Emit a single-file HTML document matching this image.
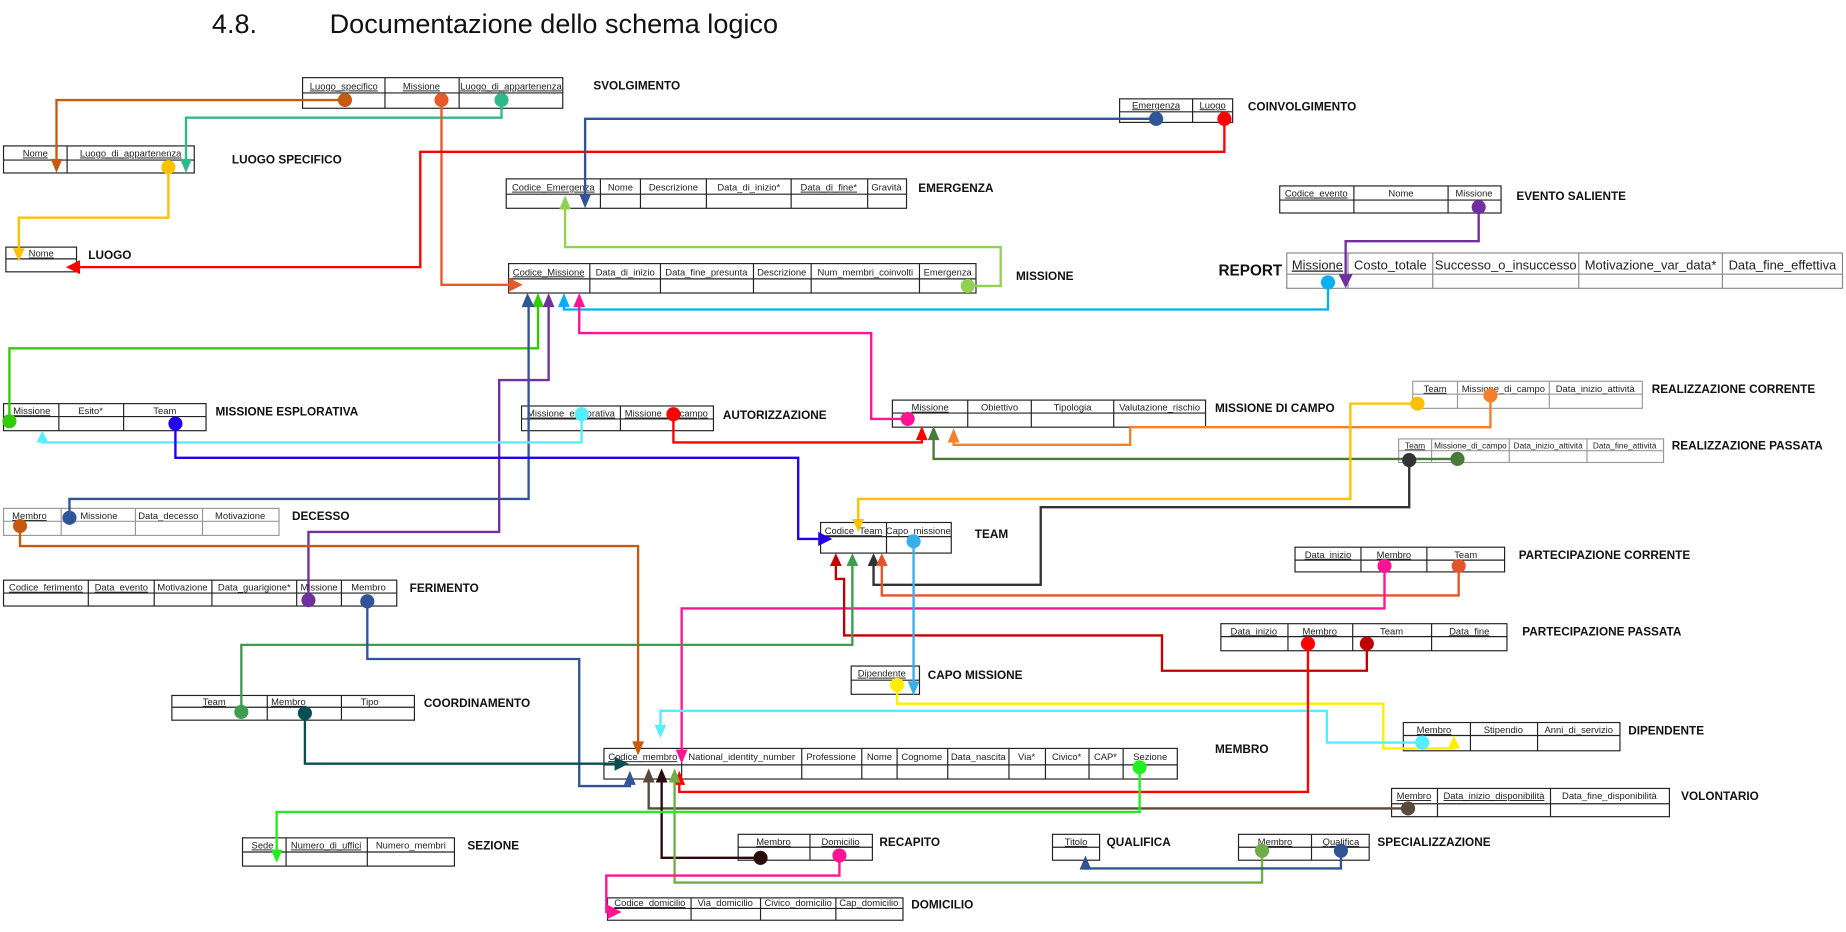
<!DOCTYPE html>
<html><head><meta charset="utf-8"><style>
html,body{margin:0;padding:0;background:#fff;}
svg{display:block}
.t{font-family:"Liberation Sans Narrow","Liberation Sans",sans-serif;font-size:8px;fill:#222;text-anchor:middle}
.u{text-decoration:underline}
.l{font-family:"Liberation Sans Narrow","Liberation Sans",sans-serif;font-size:10px;font-weight:bold;fill:#111}
.b{fill:none;stroke:#222;stroke-width:1}
.c{fill:none;stroke-width:2}
</style></head><body>
<svg width="1846" height="932" viewBox="0 0 1568 792" preserveAspectRatio="none" xmlns="http://www.w3.org/2000/svg">
<text x="180" y="28" style="font-family:'Liberation Sans',sans-serif;font-size:23px;fill:#111">4.8.</text>
<text x="280" y="28" style="font-family:'Liberation Sans',sans-serif;font-size:23px;fill:#111">Documentazione dello schema logico</text>

<g>
<rect class="b" x="257" y="66" width="221" height="26"/><line class="b" x1="257" y1="79" x2="478" y2="79"/>
<line class="b" x1="327" y1="66" x2="327" y2="92"/><line class="b" x1="390" y1="66" x2="390" y2="92"/>
<text class="t u" x="292" y="76">Luogo_specifico</text><text class="t u" x="358" y="76">Missione</text><text class="t u" x="434" y="76">Luogo_di_appartenenza</text>
<text class="l" x="504" y="76">SVOLGIMENTO</text>

<rect class="b" x="3" y="124" width="162" height="23"/><line class="b" x1="3" y1="136" x2="165" y2="136"/><line class="b" x1="57" y1="124" x2="57" y2="147"/>
<text class="t u" x="30" y="133">Nome</text><text class="t u" x="111" y="133">Luogo_di_appartenenza</text>
<text class="l" x="197" y="139">LUOGO SPECIFICO</text>

<rect class="b" x="5" y="210" width="60" height="21"/><line class="b" x1="5" y1="220" x2="65" y2="220"/>
<text class="t u" x="35" y="218">Nome</text><text class="l" x="75" y="220">LUOGO</text>

<rect class="b" x="430" y="152" width="340" height="25"/><line class="b" x1="430" y1="165" x2="770" y2="165"/>
<line class="b" x1="510" y1="152" x2="510" y2="177"/><line class="b" x1="544" y1="152" x2="544" y2="177"/><line class="b" x1="600" y1="152" x2="600" y2="177"/><line class="b" x1="672" y1="152" x2="672" y2="177"/><line class="b" x1="737" y1="152" x2="737" y2="177"/>
<text class="t u" x="470" y="162">Codice_Emergenza</text><text class="t" x="527" y="162">Nome</text><text class="t" x="572" y="162">Descrizione</text><text class="t" x="636" y="162">Data_di_inizio*</text><text class="t u" x="704" y="162">Data_di_fine*</text><text class="t" x="753" y="162">Gravità</text>
<text class="l" x="780" y="163">EMERGENZA</text>

<rect class="b" x="951" y="84" width="96" height="20"/><line class="b" x1="951" y1="95" x2="1047" y2="95"/><line class="b" x1="1013" y1="84" x2="1013" y2="104"/>
<text class="t u" x="982" y="92">Emergenza</text><text class="t u" x="1030" y="92">Luogo</text><text class="l" x="1060" y="94">COINVOLGIMENTO</text>

<rect class="b" x="1087" y="158" width="188" height="23"/><line class="b" x1="1087" y1="170" x2="1275" y2="170"/>
<line class="b" x1="1150" y1="158" x2="1150" y2="181"/><line class="b" x1="1230" y1="158" x2="1230" y2="181"/>
<text class="t u" x="1118" y="167">Codice_evento</text><text class="t" x="1190" y="167">Nome</text><text class="t" x="1252" y="167">Missione</text>
<text class="l" x="1288" y="170">EVENTO SALIENTE</text>

<text class="l" x="1035" y="234" style="font-size:13px">REPORT</text>
<rect x="1093" y="215" width="472" height="30" fill="none" stroke="#888" stroke-width="1"/><line x1="1093" y1="233" x2="1565" y2="233" stroke="#888"/>
<line x1="1145" y1="215" x2="1145" y2="245" stroke="#888"/><line x1="1217" y1="215" x2="1217" y2="245" stroke="#888"/><line x1="1341" y1="215" x2="1341" y2="245" stroke="#888"/><line x1="1463" y1="215" x2="1463" y2="245" stroke="#888"/>
<text class="t u" x="1119" y="229" style="font-size:11px">Missione</text><text class="t" x="1181" y="229" style="font-size:11px">Costo_totale</text><text class="t" x="1279" y="229" style="font-size:11px">Successo_o_insuccesso</text><text class="t" x="1402" y="229" style="font-size:11px">Motivazione_var_data*</text><text class="t" x="1514" y="229" style="font-size:11px">Data_fine_effettiva</text>

<rect class="b" x="432" y="224" width="397" height="25"/><line class="b" x1="432" y1="237" x2="829" y2="237"/>
<line class="b" x1="501" y1="224" x2="501" y2="249"/><line class="b" x1="561" y1="224" x2="561" y2="249"/><line class="b" x1="640" y1="224" x2="640" y2="249"/><line class="b" x1="689" y1="224" x2="689" y2="249"/><line class="b" x1="781" y1="224" x2="781" y2="249"/>
<text class="t u" x="466" y="234">Codice_Missione</text><text class="t" x="531" y="234">Data_di_inizio</text><text class="t" x="600" y="234">Data_fine_presunta</text><text class="t" x="664" y="234">Descrizione</text><text class="t" x="735" y="234">Num_membri_coinvolti</text><text class="t" x="805" y="234">Emergenza</text>
<text class="l" x="863" y="238">MISSIONE</text>

<rect class="b" x="3" y="343" width="172" height="23"/><line class="b" x1="3" y1="354" x2="175" y2="354"/><line class="b" x1="50" y1="343" x2="50" y2="366"/><line class="b" x1="105" y1="343" x2="105" y2="366"/>
<text class="t u" x="27" y="352">Missione</text><text class="t" x="77" y="352">Esito*</text><text class="t" x="140" y="352">Team</text>
<text class="l" x="183" y="353">MISSIONE ESPLORATIVA</text>

<rect class="b" x="443" y="345" width="163" height="21"/><line class="b" x1="443" y1="356" x2="606" y2="356"/><line class="b" x1="527" y1="345" x2="527" y2="366"/>
<text class="t u" x="485" y="354">Missione_esplorativa</text><text class="t u" x="566" y="354">Missione_di_campo</text>
<text class="l" x="614" y="356">AUTORIZZAZIONE</text>

<rect class="b" x="758" y="340" width="266" height="23"/><line class="b" x1="758" y1="351" x2="1024" y2="351"/>
<line class="b" x1="822" y1="340" x2="822" y2="363"/><line class="b" x1="876" y1="340" x2="876" y2="363"/><line class="b" x1="946" y1="340" x2="946" y2="363"/>
<text class="t u" x="790" y="349">Missione</text><text class="t" x="849" y="349">Obiettivo</text><text class="t" x="911" y="349">Tipologia</text><text class="t" x="985" y="349">Valutazione_rischio</text>
<text class="l" x="1032" y="350">MISSIONE DI CAMPO</text>

<rect x="1200" y="324" width="195" height="23" fill="none" stroke="#999"/><line x1="1200" y1="335" x2="1395" y2="335" stroke="#999"/><line x1="1238" y1="324" x2="1238" y2="347" stroke="#999"/><line x1="1316" y1="324" x2="1316" y2="347" stroke="#999"/>
<text class="t u" x="1219" y="333">Team</text><text class="t" x="1277" y="333">Missione_di_campo</text><text class="t" x="1355" y="333">Data_inizio_attività</text>
<text class="l" x="1403" y="334">REALIZZAZIONE CORRENTE</text>

<rect x="1188" y="373" width="225" height="20" fill="none" stroke="#999"/><line x1="1188" y1="383" x2="1413" y2="383" stroke="#999"/>
<line x1="1216" y1="373" x2="1216" y2="393" stroke="#999"/><line x1="1282" y1="373" x2="1282" y2="393" stroke="#999"/><line x1="1348" y1="373" x2="1348" y2="393" stroke="#999"/>
<text class="t u" x="1202" y="381" style="font-size:7px">Team</text><text class="t" x="1249" y="381" style="font-size:7px">Missione_di_campo</text><text class="t" x="1315" y="381" style="font-size:7px">Data_inizio_attività</text><text class="t" x="1380" y="381" style="font-size:7px">Data_fine_attività</text>
<text class="l" x="1420" y="382">REALIZZAZIONE PASSATA</text>

<rect x="3" y="432" width="234" height="23" fill="none" stroke="#999"/><line x1="3" y1="443" x2="237" y2="443" stroke="#999"/>
<line x1="52" y1="432" x2="52" y2="455" stroke="#999"/><line x1="115" y1="432" x2="115" y2="455" stroke="#999"/><line x1="172" y1="432" x2="172" y2="455" stroke="#999"/>
<text class="t u" x="25" y="441">Membro</text><text class="t" x="84" y="441">Missione</text><text class="t" x="143" y="441">Data_decesso</text><text class="t" x="204" y="441">Motivazione</text>
<text class="l" x="248" y="442">DECESSO</text>

<rect class="b" x="697" y="444" width="111" height="26"/><line class="b" x1="697" y1="456" x2="808" y2="456"/><line class="b" x1="753" y1="444" x2="753" y2="470"/>
<text class="t u" x="725" y="454">Codice_Team</text><text class="t" x="780" y="454">Capo_missione</text>
<text class="l" x="828" y="457">TEAM</text>

<rect class="b" x="3" y="493" width="334" height="22"/><line class="b" x1="3" y1="504" x2="337" y2="504"/>
<line class="b" x1="75" y1="493" x2="75" y2="515"/><line class="b" x1="131" y1="493" x2="131" y2="515"/><line class="b" x1="180" y1="493" x2="180" y2="515"/><line class="b" x1="252" y1="493" x2="252" y2="515"/><line class="b" x1="290" y1="493" x2="290" y2="515"/>
<text class="t u" x="39" y="502">Codice_ferimento</text><text class="t u" x="103" y="502">Data_evento</text><text class="t" x="155" y="502">Motivazione</text><text class="t" x="216" y="502">Data_guarigione*</text><text class="t" x="271" y="502">Missione</text><text class="t" x="313" y="502">Membro</text>
<text class="l" x="348" y="503">FERIMENTO</text>

<rect class="b" x="1100" y="465" width="178" height="21"/><line class="b" x1="1100" y1="476" x2="1278" y2="476"/><line class="b" x1="1156" y1="465" x2="1156" y2="486"/><line class="b" x1="1212" y1="465" x2="1212" y2="486"/>
<text class="t u" x="1128" y="474">Data_inizio</text><text class="t u" x="1184" y="474">Membro</text><text class="t" x="1245" y="474">Team</text>
<text class="l" x="1290" y="475">PARTECIPAZIONE CORRENTE</text>

<rect class="b" x="1037" y="530" width="243" height="23"/><line class="b" x1="1037" y1="541" x2="1280" y2="541"/>
<line class="b" x1="1094" y1="530" x2="1094" y2="553"/><line class="b" x1="1149" y1="530" x2="1149" y2="553"/><line class="b" x1="1216" y1="530" x2="1216" y2="553"/>
<text class="t u" x="1065" y="539">Data_inizio</text><text class="t u" x="1121" y="539">Membro</text><text class="t" x="1182" y="539">Team</text><text class="t u" x="1248" y="539">Data_fine</text>
<text class="l" x="1293" y="540">PARTECIPAZIONE PASSATA</text>

<rect class="b" x="723" y="566" width="58" height="24"/><line class="b" x1="723" y1="578" x2="781" y2="578"/>
<text class="t u" x="749" y="575">Dipendente</text><text class="l" x="788" y="577">CAPO MISSIONE</text>

<rect class="b" x="146" y="591" width="206" height="21"/><line class="b" x1="146" y1="601" x2="352" y2="601"/><line class="b" x1="227" y1="591" x2="227" y2="612"/><line class="b" x1="290" y1="591" x2="290" y2="612"/>
<text class="t u" x="182" y="599">Team</text><text class="t u" x="245" y="599">Membro</text><text class="t" x="314" y="599">Tipo</text>
<text class="l" x="360" y="601">COORDINAMENTO</text>

<rect class="b" x="1192" y="614" width="184" height="24"/><line class="b" x1="1192" y1="625" x2="1376" y2="625"/><line class="b" x1="1249" y1="614" x2="1249" y2="638"/><line class="b" x1="1306" y1="614" x2="1306" y2="638"/>
<text class="t u" x="1218" y="623">Membro</text><text class="t" x="1277" y="623">Stipendio</text><text class="t" x="1341" y="623">Anni_di_servizio</text>
<text class="l" x="1383" y="624">DIPENDENTE</text>

<rect class="b" x="513" y="636" width="487" height="26"/><line class="b" x1="513" y1="650" x2="1000" y2="650"/>
<line class="b" x1="579" y1="636" x2="579" y2="662"/><line class="b" x1="681" y1="636" x2="681" y2="662"/><line class="b" x1="732" y1="636" x2="732" y2="662"/><line class="b" x1="762" y1="636" x2="762" y2="662"/><line class="b" x1="805" y1="636" x2="805" y2="662"/><line class="b" x1="857" y1="636" x2="857" y2="662"/><line class="b" x1="888" y1="636" x2="888" y2="662"/><line class="b" x1="925" y1="636" x2="925" y2="662"/><line class="b" x1="954" y1="636" x2="954" y2="662"/>
<text class="t u" x="546" y="646">Codice_membro</text><text class="t" x="630" y="646">National_identity_number</text><text class="t" x="706" y="646">Professione</text><text class="t" x="747" y="646">Nome</text><text class="t" x="783" y="646">Cognome</text><text class="t" x="831" y="646">Data_nascita</text><text class="t" x="872" y="646">Via*</text><text class="t" x="906" y="646">Civico*</text><text class="t" x="939" y="646">CAP*</text><text class="t" x="977" y="646">Sezione</text>
<text class="l" x="1032" y="640">MEMBRO</text>

<rect class="b" x="1182" y="670" width="236" height="24"/><line class="b" x1="1182" y1="683" x2="1418" y2="683"/><line class="b" x1="1221" y1="670" x2="1221" y2="694"/><line class="b" x1="1317" y1="670" x2="1317" y2="694"/>
<text class="t u" x="1201" y="679">Membro</text><text class="t u" x="1269" y="679">Data_inizio_disponibilità</text><text class="t" x="1367" y="679">Data_fine_disponibilità</text>
<text class="l" x="1428" y="680">VOLONTARIO</text>

<rect class="b" x="206" y="712" width="180" height="24"/><line class="b" x1="206" y1="724" x2="386" y2="724"/><line class="b" x1="243" y1="712" x2="243" y2="736"/><line class="b" x1="312" y1="712" x2="312" y2="736"/>
<text class="t u" x="223" y="721">Sede</text><text class="t u" x="277" y="721">Numero_di_uffici</text><text class="t" x="349" y="721">Numero_membri</text>
<text class="l" x="397" y="722">SEZIONE</text>

<rect class="b" x="627" y="709" width="114" height="22"/><line class="b" x1="627" y1="720" x2="741" y2="720"/><line class="b" x1="688" y1="709" x2="688" y2="731"/>
<text class="t u" x="657" y="718">Membro</text><text class="t u" x="714" y="718">Domicilio</text><text class="l" x="747" y="719">RECAPITO</text>

<rect class="b" x="894" y="709" width="40" height="22"/><line class="b" x1="894" y1="720" x2="934" y2="720"/>
<text class="t u" x="914" y="718">Titolo</text><text class="l" x="940" y="719">QUALIFICA</text>

<rect class="b" x="1052" y="709" width="111" height="22"/><line class="b" x1="1052" y1="720" x2="1163" y2="720"/><line class="b" x1="1114" y1="709" x2="1114" y2="731"/>
<text class="t u" x="1083" y="718">Membro</text><text class="t u" x="1139" y="718">Qualifica</text><text class="l" x="1170" y="719">SPECIALIZZAZIONE</text>

<rect class="b" x="516" y="763" width="251" height="19"/><line class="b" x1="516" y1="772" x2="767" y2="772"/>
<line class="b" x1="587" y1="763" x2="587" y2="782"/><line class="b" x1="646" y1="763" x2="646" y2="782"/><line class="b" x1="710" y1="763" x2="710" y2="782"/>
<text class="t u" x="552" y="770">Codice_domicilio</text><text class="t" x="616" y="770">Via_domicilio</text><text class="t" x="678" y="770">Civico_domicilio</text><text class="t" x="738" y="770">Cap_domicilio</text>
<text class="l" x="774" y="772">DOMICILIO</text>
</g>

<g>
<polyline class="c" stroke="#c55a11" points="293,85 48,85 48,138"/><circle cx="293" cy="85" r="6" fill="#c55a11"/><polygon fill="#c55a11" points="43,135 53,135 48,147"/>
<polyline class="c" stroke="#2fb88a" points="426,85 426,100 158,100 158,138"/><circle cx="426" cy="85" r="6" fill="#2fb88a"/><polygon fill="#2fb88a" points="153,135 163,135 158,147"/>
<polyline class="c" stroke="#e55a2b" points="375,85 375,242 436,242"/><circle cx="375" cy="85" r="6" fill="#e55a2b"/><polygon fill="#e55a2b" points="432,236 432,248 444,242"/>
<polyline class="c" stroke="#ffc000" points="143,142 143,185 16,185 16,214"/><circle cx="143" cy="142" r="6" fill="#ffc000"/><polygon fill="#ffc000" points="11,211 21,211 16,222"/>
<polyline class="c" stroke="#ff0000" points="1040,101 1040,129 357,129 357,227 65,227"/><circle cx="1040" cy="101" r="6" fill="#ff0000"/><polygon fill="#ff0000" points="68,221 68,233 56,227"/>
<polyline class="c" stroke="#2f5597" points="982,101 497,101 497,168"/><circle cx="982" cy="101" r="6" fill="#2f5597"/><polygon fill="#2f5597" points="492,165 502,165 497,177"/>
<polyline class="c" stroke="#92d050" points="822,243 850,243 850,210 480,210 480,175"/><circle cx="822" cy="243" r="6" fill="#92d050"/><polygon fill="#92d050" points="475,178 485,178 480,166"/>
<polyline class="c" stroke="#00b0f0" points="1128,240 1128,263 479,263 479,258"/><circle cx="1128" cy="240" r="6" fill="#00b0f0"/><polygon fill="#00b0f0" points="474,261 484,261 479,249"/>
<polyline class="c" stroke="#7030a0" points="1256,176 1256,205 1143,205 1143,236"/><circle cx="1256" cy="176" r="6" fill="#7030a0"/><polygon fill="#7030a0" points="1137,233 1149,233 1143,245"/>
<polyline class="c" stroke="#ff1493" points="771,356 740,356 740,283 492,283 492,258"/><circle cx="771" cy="356" r="6" fill="#ff1493"/><polygon fill="#ff1493" points="487,261 497,261 492,249"/>
<polyline class="c" stroke="#33cc00" points="8,358 8,296 457,296 457,258"/><circle cx="8" cy="358" r="6" fill="#33cc00"/><polygon fill="#33cc00" points="452,261 462,261 457,249"/>
<polyline class="c" stroke="#2f5597" points="59,440 59,424 449,424 449,258"/><circle cx="59" cy="440" r="6" fill="#2f5597"/><polygon fill="#2f5597" points="443,261 454,261 448,249"/>
<polyline class="c" stroke="#7030a0" points="262,510 262,452 424,452 424,323 466,323 466,258"/><circle cx="262" cy="510" r="6" fill="#7030a0"/><polygon fill="#7030a0" points="461,261 471,261 466,249"/>
<polyline class="c" stroke="#55eeff" points="494,352 494,376 36,376 36,372"/><circle cx="494" cy="352" r="6" fill="#55eeff"/><polygon fill="#55eeff" points="31,376 41,376 36,366"/>
<polyline class="c" stroke="#2200ee" points="149,360 149,389 678,389 678,458 698,458"/><circle cx="149" cy="360" r="6" fill="#2200ee"/><polygon fill="#2200ee" points="695,452 695,464 707,458"/>
<polyline class="c" stroke="#ff0000" points="572,352 572,376 783,376 783,370"/><circle cx="572" cy="352" r="6" fill="#ff0000"/><polygon fill="#ff0000" points="778,374 788,374 783,362"/>
<polyline class="c" stroke="#4a7a3a" points="1238,390 793,390 793,370"/><circle cx="1238" cy="390" r="6" fill="#4a7a3a"/><polygon fill="#4a7a3a" points="788,374 798,374 793,362"/>
<polyline class="c" stroke="#f4802b" points="1266,336 1266,363 960,363 960,378 810,378 810,372"/><circle cx="1266" cy="336" r="6" fill="#f4802b"/><polygon fill="#f4802b" points="805,376 815,376 810,364"/>
<polyline class="c" stroke="#ffc000" points="1204,343 1147,343 1147,424 729,424 729,444"/><circle cx="1204" cy="343" r="6" fill="#ffc000"/><polygon fill="#ffc000" points="724,441 734,441 729,452"/>
<polyline class="c" stroke="#333" points="1197,391 1197,431 884,431 884,497 742,497 742,478"/><circle cx="1197" cy="391" r="6" fill="#333"/><polygon fill="#333" points="737,481 747,481 742,470"/>
<polyline class="c" stroke="#e2542b" points="1239,481 1239,506 749,506 749,478"/><circle cx="1239" cy="481" r="6" fill="#e2542b"/><polygon fill="#e2542b" points="744,481 754,481 749,470"/>
<polyline class="c" stroke="#ff1493" points="1176,481 1176,517 579,517 579,640"/><circle cx="1176" cy="481" r="6" fill="#ff1493"/><polygon fill="#ff1493" points="574,637 584,637 579,649"/>
<polyline class="c" stroke="#c00000" points="1161,547 1161,570 987,570 987,540 717,540 717,492 710,492 710,478"/><circle cx="1161" cy="547" r="6" fill="#c00000"/><polygon fill="#c00000" points="705,481 715,481 710,470"/>
<polyline class="c" stroke="#3c9c50" points="205,605 205,548 724,548 724,478"/><circle cx="205" cy="605" r="6" fill="#3c9c50"/><polygon fill="#3c9c50" points="719,481 729,481 724,470"/>
<polyline class="c" stroke="#3aaeea" points="776,460 776,582"/><circle cx="776" cy="460" r="6" fill="#3aaeea"/><polygon fill="#3aaeea" points="771,579 781,579 776,591"/>
<polyline class="c" stroke="#ffee00" points="762,582 762,598 1175,598 1175,636 1235,636 1235,634"/><circle cx="762" cy="582" r="6" fill="#ffee00"/><polygon fill="#ffee00" points="1230,636 1240,636 1235,625"/>
<polyline class="c" stroke="#55eeff" points="1208,631 1127,631 1127,604 561,604 561,618"/><circle cx="1208" cy="631" r="6" fill="#55eeff"/><polygon fill="#55eeff" points="556,616 566,616 561,627"/>
<polyline class="c" stroke="#c55a11" points="17,447 17,464 542,464 542,632"/><circle cx="17" cy="447" r="6" fill="#c55a11"/><polygon fill="#c55a11" points="537,630 547,630 542,642"/>
<polyline class="c" stroke="#2f5597" points="312,511 312,560 492,560 492,668 535,668 535,665"/><circle cx="312" cy="511" r="6" fill="#2f5597"/><polygon fill="#2f5597" points="530,667 540,667 535,655"/>
<polyline class="c" stroke="#0a4f4f" points="259,606 259,649 525,649"/><circle cx="259" cy="606" r="6" fill="#0a4f4f"/><polygon fill="#0a4f4f" points="522,643 522,655 534,649"/>
<polyline class="c" stroke="#ff0000" points="1111,547 1111,673 577,673 577,665"/><circle cx="1111" cy="547" r="6" fill="#ff0000"/><polygon fill="#ff0000" points="572,667 582,667 577,655"/>
<polyline class="c" stroke="#5a4a3a" points="1196,687 551,687 551,665"/><circle cx="1196" cy="687" r="6" fill="#5a4a3a"/><polygon fill="#5a4a3a" points="546,665 556,665 551,653"/>
<polyline class="c" stroke="#2b0a0a" points="646,729 562,729 562,665"/><circle cx="646" cy="729" r="6" fill="#2b0a0a"/><polygon fill="#2b0a0a" points="557,665 567,665 562,653"/>
<polyline class="c" stroke="#70ad47" points="1072,723 1072,750 573,750 573,665"/><circle cx="1072" cy="723" r="6" fill="#70ad47"/><polygon fill="#70ad47" points="568,665 578,665 573,653"/>
<polyline class="c" stroke="#22ee22" points="968,652 968,690 235,690 235,724"/><circle cx="968" cy="652" r="6" fill="#22ee22"/><polygon fill="#22ee22" points="230,722 240,722 235,733"/>
<polyline class="c" stroke="#ff1493" points="713,727 713,744 515,744 515,775 518,775"/><circle cx="713" cy="727" r="6" fill="#ff1493"/><polygon fill="#ff1493" points="516,769 516,781 528,775"/>
<polyline class="c" stroke="#2f5597" points="1139,723 1139,738 922,738 922,736"/><circle cx="1139" cy="723" r="6" fill="#2f5597"/><polygon fill="#2f5597" points="917,739 927,739 922,727"/>
</g>
</svg>
</body></html>
